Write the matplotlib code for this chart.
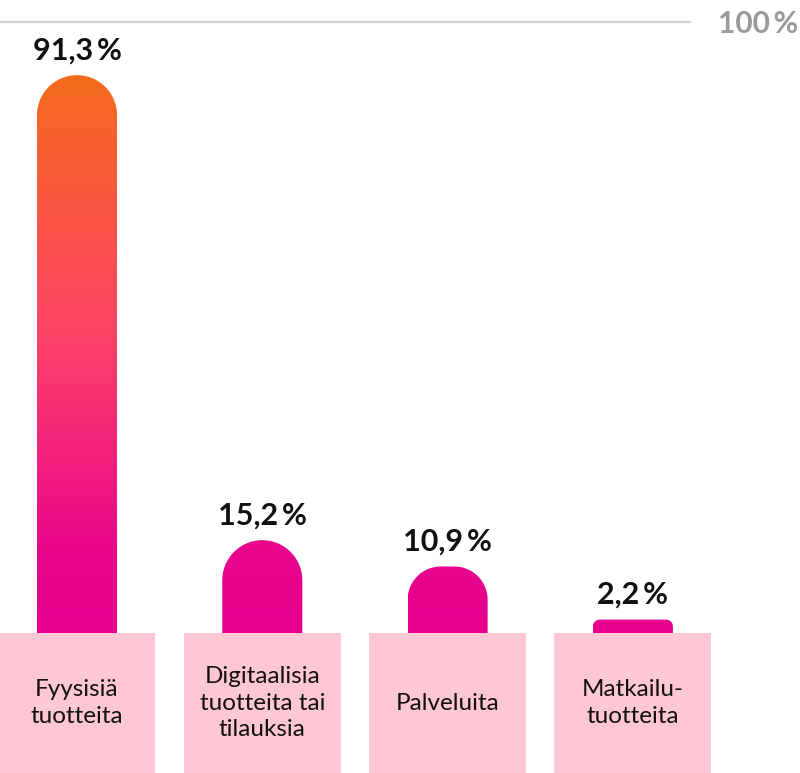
import numpy as np
import matplotlib
matplotlib.use("Agg")
import matplotlib.pyplot as plt
from matplotlib.path import Path
from matplotlib.patches import PathPatch
from matplotlib.colors import LinearSegmentedColormap

plt.rcParams['font.family'] = ['Lato', 'DejaVu Sans']

categories = ["Fyysisiä\ntuotteita", "Digitaalisia\ntuotteita tai\ntilauksia",
              "Palveluita", "Matkailu-\ntuotteita"]
values = [91.3, 15.2, 10.9, 2.2]
value_labels = ["91,3\u2009%", "15,2\u2009%", "10,9\u2009%", "2,2\u2009%"]

W, H = 800, 773
fig = plt.figure(figsize=(W / 100, H / 100), dpi=100)
ax = fig.add_axes([0, 0, 1, 1])
ax.set_xlim(-0.4155, 3.9018)
ax.set_ylim(-22.9, 103.6)
ax.axis("off")

# gradient in data space: magenta low, pink-red middle, orange high
grad = LinearSegmentedColormap.from_list(
    "grad", [(0.0, "#E6008E"), (0.12, "#E7048D"), (0.5, "#FF4566"),
             (0.91, "#F46B1C"), (1.0, "#F46B1C")])

# pixel scale of the axes
px_x = ax.transData.transform((1, 0))[0] - ax.transData.transform((0, 0))[0]
px_y = ax.transData.transform((0, 1))[1] - ax.transData.transform((0, 0))[1]

bar_w = 0.432
box_w = 0.847
x = np.arange(len(values))

# pink label boxes
ax.bar(x, -ax.get_ylim()[0], bottom=ax.get_ylim()[0], width=box_w,
       color="#FFC6D3", zorder=1)


def rounded_bar(xc, h):
    half = bar_w / 2
    r_px = min(bar_w * px_x / 2, h * px_y / 2)
    rx, ry = r_px / px_x, r_px / px_y
    pts = [(xc - half, 0), (xc + half, 0), (xc + half, h - ry)]
    t = np.linspace(0, np.pi / 2, 30)
    cx = xc + half - rx
    pts += list(zip(cx + rx * np.cos(t), h - ry + ry * np.sin(t)))
    cx = xc - half + rx
    t = np.linspace(np.pi / 2, np.pi, 30)
    pts += list(zip(cx + rx * np.cos(t), h - ry + ry * np.sin(t)))
    pts += [(xc - half, 0)]
    codes = [Path.MOVETO] + [Path.LINETO] * (len(pts) - 2) + [Path.CLOSEPOLY]
    return Path(pts, codes)


g = np.linspace(0, 1, 256).reshape(-1, 1)
for xi, v, lab in zip(x, values, value_labels):
    patch = PathPatch(rounded_bar(xi, v), facecolor="none", edgecolor="none")
    ax.add_patch(patch)
    im = ax.imshow(g, cmap=grad, origin="lower", aspect="auto",
                   extent=(xi - bar_w / 2, xi + bar_w / 2, 0, 100), zorder=2)
    im.set_clip_path(patch)
    ax.text(xi, v + 1.8, lab, ha="center", va="bottom", fontsize=22,
            fontweight="bold", color="#111111")

for xi, c in zip(x, categories):
    ax.text(xi, ax.get_ylim()[0] / 2, c, ha="center", va="center",
            fontsize=17.5, color="#111111", linespacing=1.3)

ax.plot([ax.get_xlim()[0], 3.31], [100, 100], color="#D2D2D2", lw=1.6,
        zorder=0)
ax.text(ax.get_xlim()[1] - 0.01, 99.6, "100\u2009%", ha="right", va="center",
        fontsize=21.5, fontweight="bold", color="#9A9A9A")

fig.savefig("out.png", dpi=100)
